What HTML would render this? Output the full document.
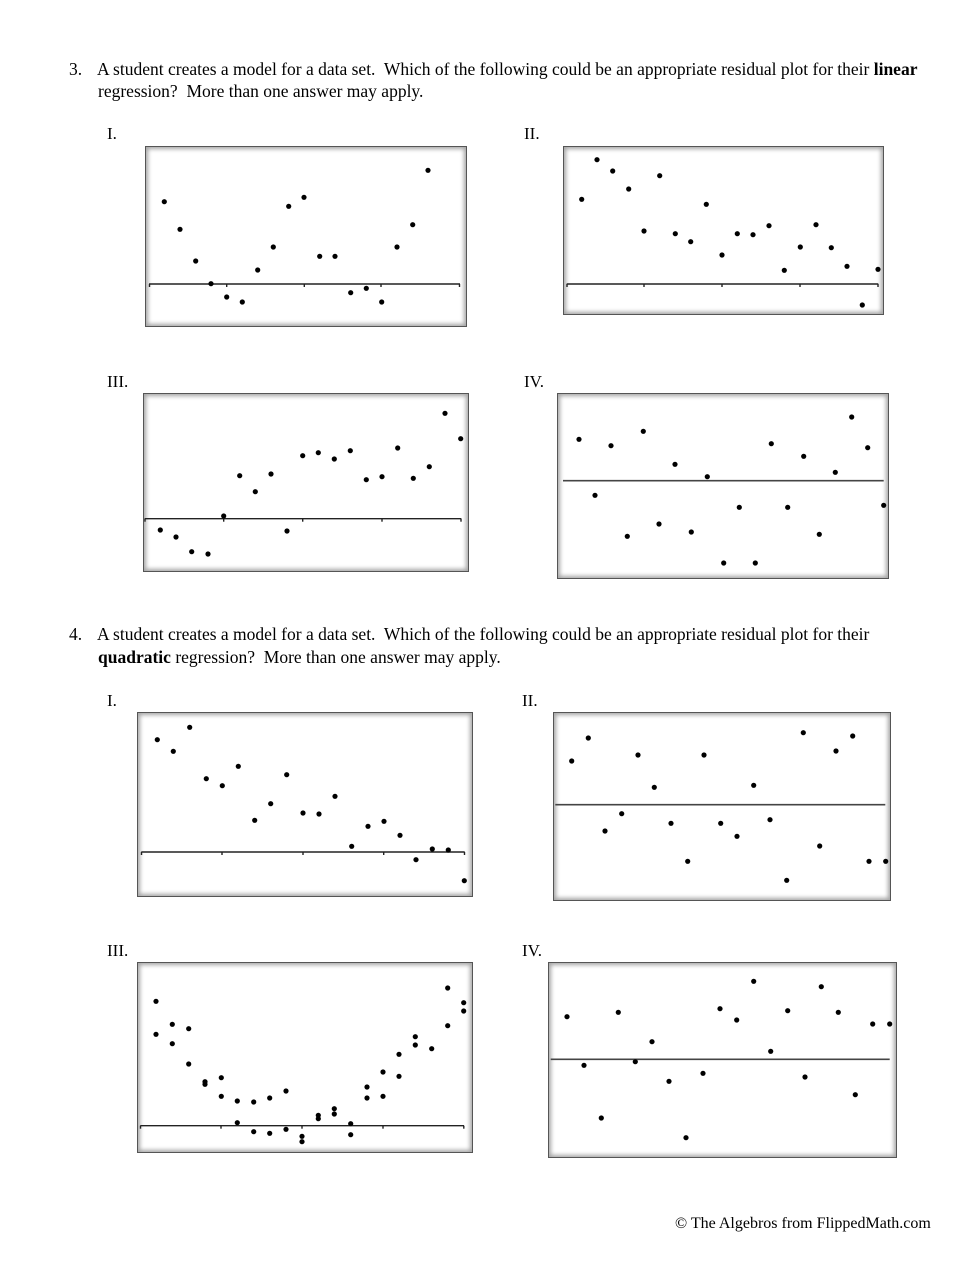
<!DOCTYPE html>
<html>
<head>
<meta charset="utf-8">
<style>
  html,body{margin:0;padding:0;background:#fff;}
  body{width:979px;height:1266px;position:relative;overflow:hidden;}
  .box{position:absolute;box-sizing:border-box;border:1px solid #555;background:#fff;
       box-shadow:inset 0 0 4px 2px rgba(0,0,0,0.36);}
  svg{position:absolute;left:0;top:0;}
  text{font-family:"Liberation Serif","Times New Roman",serif;font-size:17.5px;fill:#000;}
  .b{font-weight:bold;}
  .lab{font-size:17px;}
  .foot{font-size:16px;}
</style>
</head>
<body>
<div class="box" style="left:145px;top:146px;width:322px;height:181px;"></div>
<div class="box" style="left:563px;top:146px;width:321px;height:169px;"></div>
<div class="box" style="left:143px;top:393px;width:326px;height:179px;"></div>
<div class="box" style="left:557px;top:393px;width:332px;height:186px;"></div>
<div class="box" style="left:137px;top:712px;width:336px;height:185px;"></div>
<div class="box" style="left:553px;top:712px;width:338px;height:189px;"></div>
<div class="box" style="left:137px;top:962px;width:336px;height:191px;"></div>
<div class="box" style="left:548px;top:962px;width:349px;height:196px;"></div>

<svg width="979" height="1266" viewBox="0 0 979 1266" xmlns="http://www.w3.org/2000/svg">
  <!-- Question 3 text -->
  <text x="69" y="75">3.</text>
  <text x="97" y="75">A student creates a model for a data set.&#160; Which of the following could be an appropriate residual plot for their <tspan class="b">linear</tspan></text>
  <text x="98" y="97">regression?&#160; More than one answer may apply.</text>
  <text class="lab" x="107" y="139">I.</text>
  <text class="lab" x="524" y="139">II.</text>
  <text class="lab" x="107" y="387">III.</text>
  <text class="lab" x="524" y="387">IV.</text>

  <!-- Question 4 text -->
  <text x="69" y="640">4.</text>
  <text x="97" y="640">A student creates a model for a data set.&#160; Which of the following could be an appropriate residual plot for their</text>
  <text x="98" y="663"><tspan class="b">quadratic</tspan> regression?&#160; More than one answer may apply.</text>
  <text class="lab" x="107" y="706">I.</text>
  <text class="lab" x="522" y="706">II.</text>
  <text class="lab" x="107" y="956">III.</text>
  <text class="lab" x="522" y="956">IV.</text>

  <text class="foot" x="675" y="1228">© The Algebros from FlippedMath.com</text>

  <!-- Plot 3-I -->
  <g stroke="#222" stroke-width="1.4">
    <line x1="149" y1="284" x2="460" y2="284"/>
    <line x1="149.5" y1="284" x2="149.5" y2="287"/>
    <line x1="226.7" y1="284" x2="226.7" y2="287"/>
    <line x1="304.3" y1="284" x2="304.3" y2="287"/>
    <line x1="381" y1="284" x2="381" y2="287"/>
    <line x1="459.5" y1="284" x2="459.5" y2="287"/>
  </g>
  <g fill="#000">
    <circle cx="164.3" cy="201.7" r="2.6"/><circle cx="180" cy="229.3" r="2.6"/>
    <circle cx="195.7" cy="261" r="2.6"/><circle cx="211" cy="283.7" r="2.6"/>
    <circle cx="226.7" cy="297" r="2.6"/><circle cx="242.3" cy="302" r="2.6"/>
    <circle cx="257.7" cy="270" r="2.6"/><circle cx="273.3" cy="247" r="2.6"/>
    <circle cx="288.7" cy="206.3" r="2.6"/><circle cx="304" cy="197.3" r="2.6"/>
    <circle cx="319.7" cy="256.3" r="2.6"/><circle cx="335" cy="256.3" r="2.6"/>
    <circle cx="350.7" cy="292.7" r="2.6"/><circle cx="366.3" cy="288.3" r="2.6"/>
    <circle cx="381.7" cy="302" r="2.6"/><circle cx="397" cy="247" r="2.6"/>
    <circle cx="412.7" cy="224.7" r="2.6"/><circle cx="428" cy="170.3" r="2.6"/>
  </g>

  <!-- Plot 3-II -->
  <g stroke="#222" stroke-width="1.4">
    <line x1="566.7" y1="284" x2="878.3" y2="284"/>
    <line x1="567" y1="284" x2="567" y2="287"/>
    <line x1="644" y1="284" x2="644" y2="287"/>
    <line x1="722" y1="284" x2="722" y2="287"/>
    <line x1="800" y1="284" x2="800" y2="287"/>
    <line x1="878" y1="284" x2="878" y2="287"/>
  </g>
  <g fill="#000">
    <circle cx="581.7" cy="199.3" r="2.6"/><circle cx="597" cy="159.7" r="2.6"/>
    <circle cx="612.7" cy="171" r="2.6"/><circle cx="628.7" cy="189" r="2.6"/>
    <circle cx="644" cy="231" r="2.6"/><circle cx="659.7" cy="175.7" r="2.6"/>
    <circle cx="675.3" cy="233.7" r="2.6"/><circle cx="690.7" cy="241.7" r="2.6"/>
    <circle cx="706.3" cy="204.3" r="2.6"/><circle cx="722" cy="255" r="2.6"/>
    <circle cx="737.3" cy="233.7" r="2.6"/><circle cx="753" cy="234.7" r="2.6"/>
    <circle cx="769" cy="225.7" r="2.6"/><circle cx="784.3" cy="270.3" r="2.6"/>
    <circle cx="800.3" cy="247" r="2.6"/><circle cx="816" cy="224.7" r="2.6"/>
    <circle cx="831.3" cy="247.7" r="2.6"/><circle cx="847" cy="266.3" r="2.6"/>
    <circle cx="862.3" cy="305" r="2.6"/><circle cx="878" cy="269.3" r="2.6"/>
  </g>

  <!-- Plot 3-III -->
  <g stroke="#222" stroke-width="1.4">
    <line x1="144.7" y1="518.7" x2="461.3" y2="518.7"/>
    <line x1="145" y1="518.7" x2="145" y2="521.7"/>
    <line x1="223.7" y1="518.7" x2="223.7" y2="521.7"/>
    <line x1="302.7" y1="518.7" x2="302.7" y2="521.7"/>
    <line x1="382" y1="518.7" x2="382" y2="521.7"/>
    <line x1="461" y1="518.7" x2="461" y2="521.7"/>
  </g>
  <g fill="#000">
    <circle cx="160.3" cy="530" r="2.6"/><circle cx="176" cy="537" r="2.6"/>
    <circle cx="191.7" cy="551.7" r="2.6"/><circle cx="208" cy="554" r="2.6"/>
    <circle cx="223.7" cy="516" r="2.6"/><circle cx="239.7" cy="475.7" r="2.6"/>
    <circle cx="255.3" cy="491.7" r="2.6"/><circle cx="271" cy="474" r="2.6"/>
    <circle cx="287" cy="531" r="2.6"/><circle cx="302.7" cy="455.7" r="2.6"/>
    <circle cx="318.3" cy="452.7" r="2.6"/><circle cx="334.3" cy="459" r="2.6"/>
    <circle cx="350.3" cy="450.7" r="2.6"/><circle cx="366.3" cy="479.7" r="2.6"/>
    <circle cx="382" cy="476.7" r="2.6"/><circle cx="397.7" cy="448" r="2.6"/>
    <circle cx="413.3" cy="478.3" r="2.6"/><circle cx="429.3" cy="466.7" r="2.6"/>
    <circle cx="445" cy="413.3" r="2.6"/><circle cx="460.7" cy="438.7" r="2.6"/>
  </g>

  <!-- Plot 3-IV -->
  <line x1="563" y1="480.7" x2="883.7" y2="480.7" stroke="#444" stroke-width="1.6"/>
  <g fill="#000">
    <circle cx="579" cy="439.3" r="2.6"/><circle cx="595" cy="495.3" r="2.6"/>
    <circle cx="611" cy="445.7" r="2.6"/><circle cx="627.3" cy="536.3" r="2.6"/>
    <circle cx="643.3" cy="431.3" r="2.6"/><circle cx="659" cy="524" r="2.6"/>
    <circle cx="675" cy="464.3" r="2.6"/><circle cx="691.3" cy="532" r="2.6"/>
    <circle cx="707.3" cy="476.7" r="2.6"/><circle cx="723.7" cy="563" r="2.6"/>
    <circle cx="739.3" cy="507.3" r="2.6"/><circle cx="755.3" cy="563" r="2.6"/>
    <circle cx="771.3" cy="443.7" r="2.6"/><circle cx="787.7" cy="507.3" r="2.6"/>
    <circle cx="803.7" cy="456.3" r="2.6"/><circle cx="819.3" cy="534.3" r="2.6"/>
    <circle cx="835.3" cy="472.3" r="2.6"/><circle cx="851.7" cy="417" r="2.6"/>
    <circle cx="867.7" cy="447.7" r="2.6"/><circle cx="883.7" cy="505.3" r="2.6"/>
  </g>

  <!-- Plot 4-I -->
  <g stroke="#222" stroke-width="1.4">
    <line x1="141.3" y1="852" x2="464.7" y2="852"/>
    <line x1="141.5" y1="852" x2="141.5" y2="855"/>
    <line x1="222" y1="852" x2="222" y2="855"/>
    <line x1="303" y1="852" x2="303" y2="855"/>
    <line x1="383.7" y1="852" x2="383.7" y2="855"/>
    <line x1="464.5" y1="852" x2="464.5" y2="855"/>
  </g>
  <g fill="#000">
    <circle cx="157.3" cy="739.7" r="2.6"/><circle cx="173.3" cy="751.3" r="2.6"/>
    <circle cx="189.7" cy="727.3" r="2.6"/><circle cx="206.3" cy="778.7" r="2.6"/>
    <circle cx="222.3" cy="785.7" r="2.6"/><circle cx="238.3" cy="766.3" r="2.6"/>
    <circle cx="254.7" cy="820.3" r="2.6"/><circle cx="270.7" cy="803.7" r="2.6"/>
    <circle cx="286.7" cy="774.7" r="2.6"/><circle cx="303" cy="813" r="2.6"/>
    <circle cx="319" cy="814" r="2.6"/><circle cx="335" cy="796.3" r="2.6"/>
    <circle cx="351.7" cy="846.3" r="2.6"/><circle cx="368" cy="826.3" r="2.6"/>
    <circle cx="384" cy="821.3" r="2.6"/><circle cx="400" cy="835.3" r="2.6"/>
    <circle cx="416" cy="859.7" r="2.6"/><circle cx="432.3" cy="849" r="2.6"/>
    <circle cx="448.3" cy="850" r="2.6"/><circle cx="464.3" cy="880.7" r="2.6"/>
  </g>

  <!-- Plot 4-II -->
  <line x1="555.3" y1="804.7" x2="885.3" y2="804.7" stroke="#444" stroke-width="1.6"/>
  <g fill="#000">
    <circle cx="571.7" cy="761" r="2.6"/><circle cx="588.3" cy="738" r="2.6"/>
    <circle cx="605" cy="831" r="2.6"/><circle cx="621.7" cy="813.7" r="2.6"/>
    <circle cx="638" cy="755" r="2.6"/><circle cx="654.3" cy="787.3" r="2.6"/>
    <circle cx="671" cy="823.3" r="2.6"/><circle cx="687.7" cy="861.3" r="2.6"/>
    <circle cx="704" cy="755" r="2.6"/><circle cx="720.7" cy="823.3" r="2.6"/>
    <circle cx="737" cy="836.3" r="2.6"/><circle cx="753.7" cy="785.3" r="2.6"/>
    <circle cx="770" cy="819.7" r="2.6"/><circle cx="786.7" cy="880.3" r="2.6"/>
    <circle cx="803.3" cy="732.7" r="2.6"/><circle cx="819.7" cy="846" r="2.6"/>
    <circle cx="836" cy="751" r="2.6"/><circle cx="852.7" cy="736" r="2.6"/>
    <circle cx="869" cy="861.3" r="2.6"/><circle cx="885.7" cy="861.3" r="2.6"/>
  </g>

  <!-- Plot 4-III -->
  <g stroke="#222" stroke-width="1.4">
    <line x1="140.3" y1="1125.7" x2="464" y2="1125.7"/>
    <line x1="140.5" y1="1125.7" x2="140.5" y2="1128.7"/>
    <line x1="221" y1="1125.7" x2="221" y2="1128.7"/>
    <line x1="302" y1="1125.7" x2="302" y2="1128.7"/>
    <line x1="383" y1="1125.7" x2="383" y2="1128.7"/>
    <line x1="463.8" y1="1125.7" x2="463.8" y2="1128.7"/>
  </g>
  <g fill="#000">
    <circle cx="156" cy="1001.3" r="2.6"/><circle cx="156" cy="1034.3" r="2.6"/>
    <circle cx="172.3" cy="1024.3" r="2.6"/><circle cx="172.3" cy="1043.7" r="2.6"/>
    <circle cx="188.7" cy="1028.7" r="2.6"/><circle cx="188.7" cy="1064" r="2.6"/>
    <circle cx="205" cy="1081.7" r="2.6"/><circle cx="205" cy="1084.3" r="2.6"/>
    <circle cx="221.3" cy="1077.7" r="2.6"/><circle cx="221.3" cy="1096.3" r="2.6"/>
    <circle cx="237.3" cy="1101" r="2.6"/><circle cx="237.3" cy="1122.7" r="2.6"/>
    <circle cx="253.7" cy="1102" r="2.6"/><circle cx="253.7" cy="1131.7" r="2.6"/>
    <circle cx="269.7" cy="1098" r="2.6"/><circle cx="269.7" cy="1133.3" r="2.6"/>
    <circle cx="286" cy="1091" r="2.6"/><circle cx="286" cy="1129.3" r="2.6"/>
    <circle cx="302" cy="1136.3" r="2.6"/><circle cx="302" cy="1141.7" r="2.6"/>
    <circle cx="318.3" cy="1115.3" r="2.6"/><circle cx="318.3" cy="1118.7" r="2.6"/>
    <circle cx="334.3" cy="1108.7" r="2.6"/><circle cx="334.3" cy="1114" r="2.6"/>
    <circle cx="350.7" cy="1123.7" r="2.6"/><circle cx="350.7" cy="1134.7" r="2.6"/>
    <circle cx="367" cy="1087" r="2.6"/><circle cx="367" cy="1098" r="2.6"/>
    <circle cx="383" cy="1072" r="2.6"/><circle cx="383" cy="1096.3" r="2.6"/>
    <circle cx="399" cy="1054.3" r="2.6"/><circle cx="399" cy="1076.3" r="2.6"/>
    <circle cx="415.3" cy="1036.7" r="2.6"/><circle cx="415.3" cy="1045" r="2.6"/>
    <circle cx="431.7" cy="1048.7" r="2.6"/>
    <circle cx="447.7" cy="988" r="2.6"/><circle cx="447.7" cy="1025.7" r="2.6"/>
    <circle cx="463.7" cy="1002.7" r="2.6"/><circle cx="463.7" cy="1011" r="2.6"/>
  </g>

  <!-- Plot 4-IV -->
  <line x1="550.7" y1="1059.3" x2="889.7" y2="1059.3" stroke="#444" stroke-width="1.6"/>
  <g fill="#000">
    <circle cx="567" cy="1016.7" r="2.6"/><circle cx="584" cy="1065.3" r="2.6"/>
    <circle cx="601.3" cy="1118" r="2.6"/><circle cx="618.3" cy="1012.3" r="2.6"/>
    <circle cx="635.3" cy="1061.7" r="2.6"/><circle cx="652" cy="1041.7" r="2.6"/>
    <circle cx="669" cy="1081.3" r="2.6"/><circle cx="686" cy="1137.7" r="2.6"/>
    <circle cx="703" cy="1073.3" r="2.6"/><circle cx="720" cy="1008.7" r="2.6"/>
    <circle cx="736.7" cy="1020" r="2.6"/><circle cx="753.7" cy="981.3" r="2.6"/>
    <circle cx="770.7" cy="1051.3" r="2.6"/><circle cx="787.7" cy="1010.7" r="2.6"/>
    <circle cx="805" cy="1077" r="2.6"/><circle cx="821.3" cy="986.7" r="2.6"/>
    <circle cx="838.3" cy="1012.3" r="2.6"/><circle cx="855.3" cy="1094.7" r="2.6"/>
    <circle cx="872.7" cy="1024" r="2.6"/><circle cx="889.7" cy="1024" r="2.6"/>
  </g>
</svg>
</body>
</html>
